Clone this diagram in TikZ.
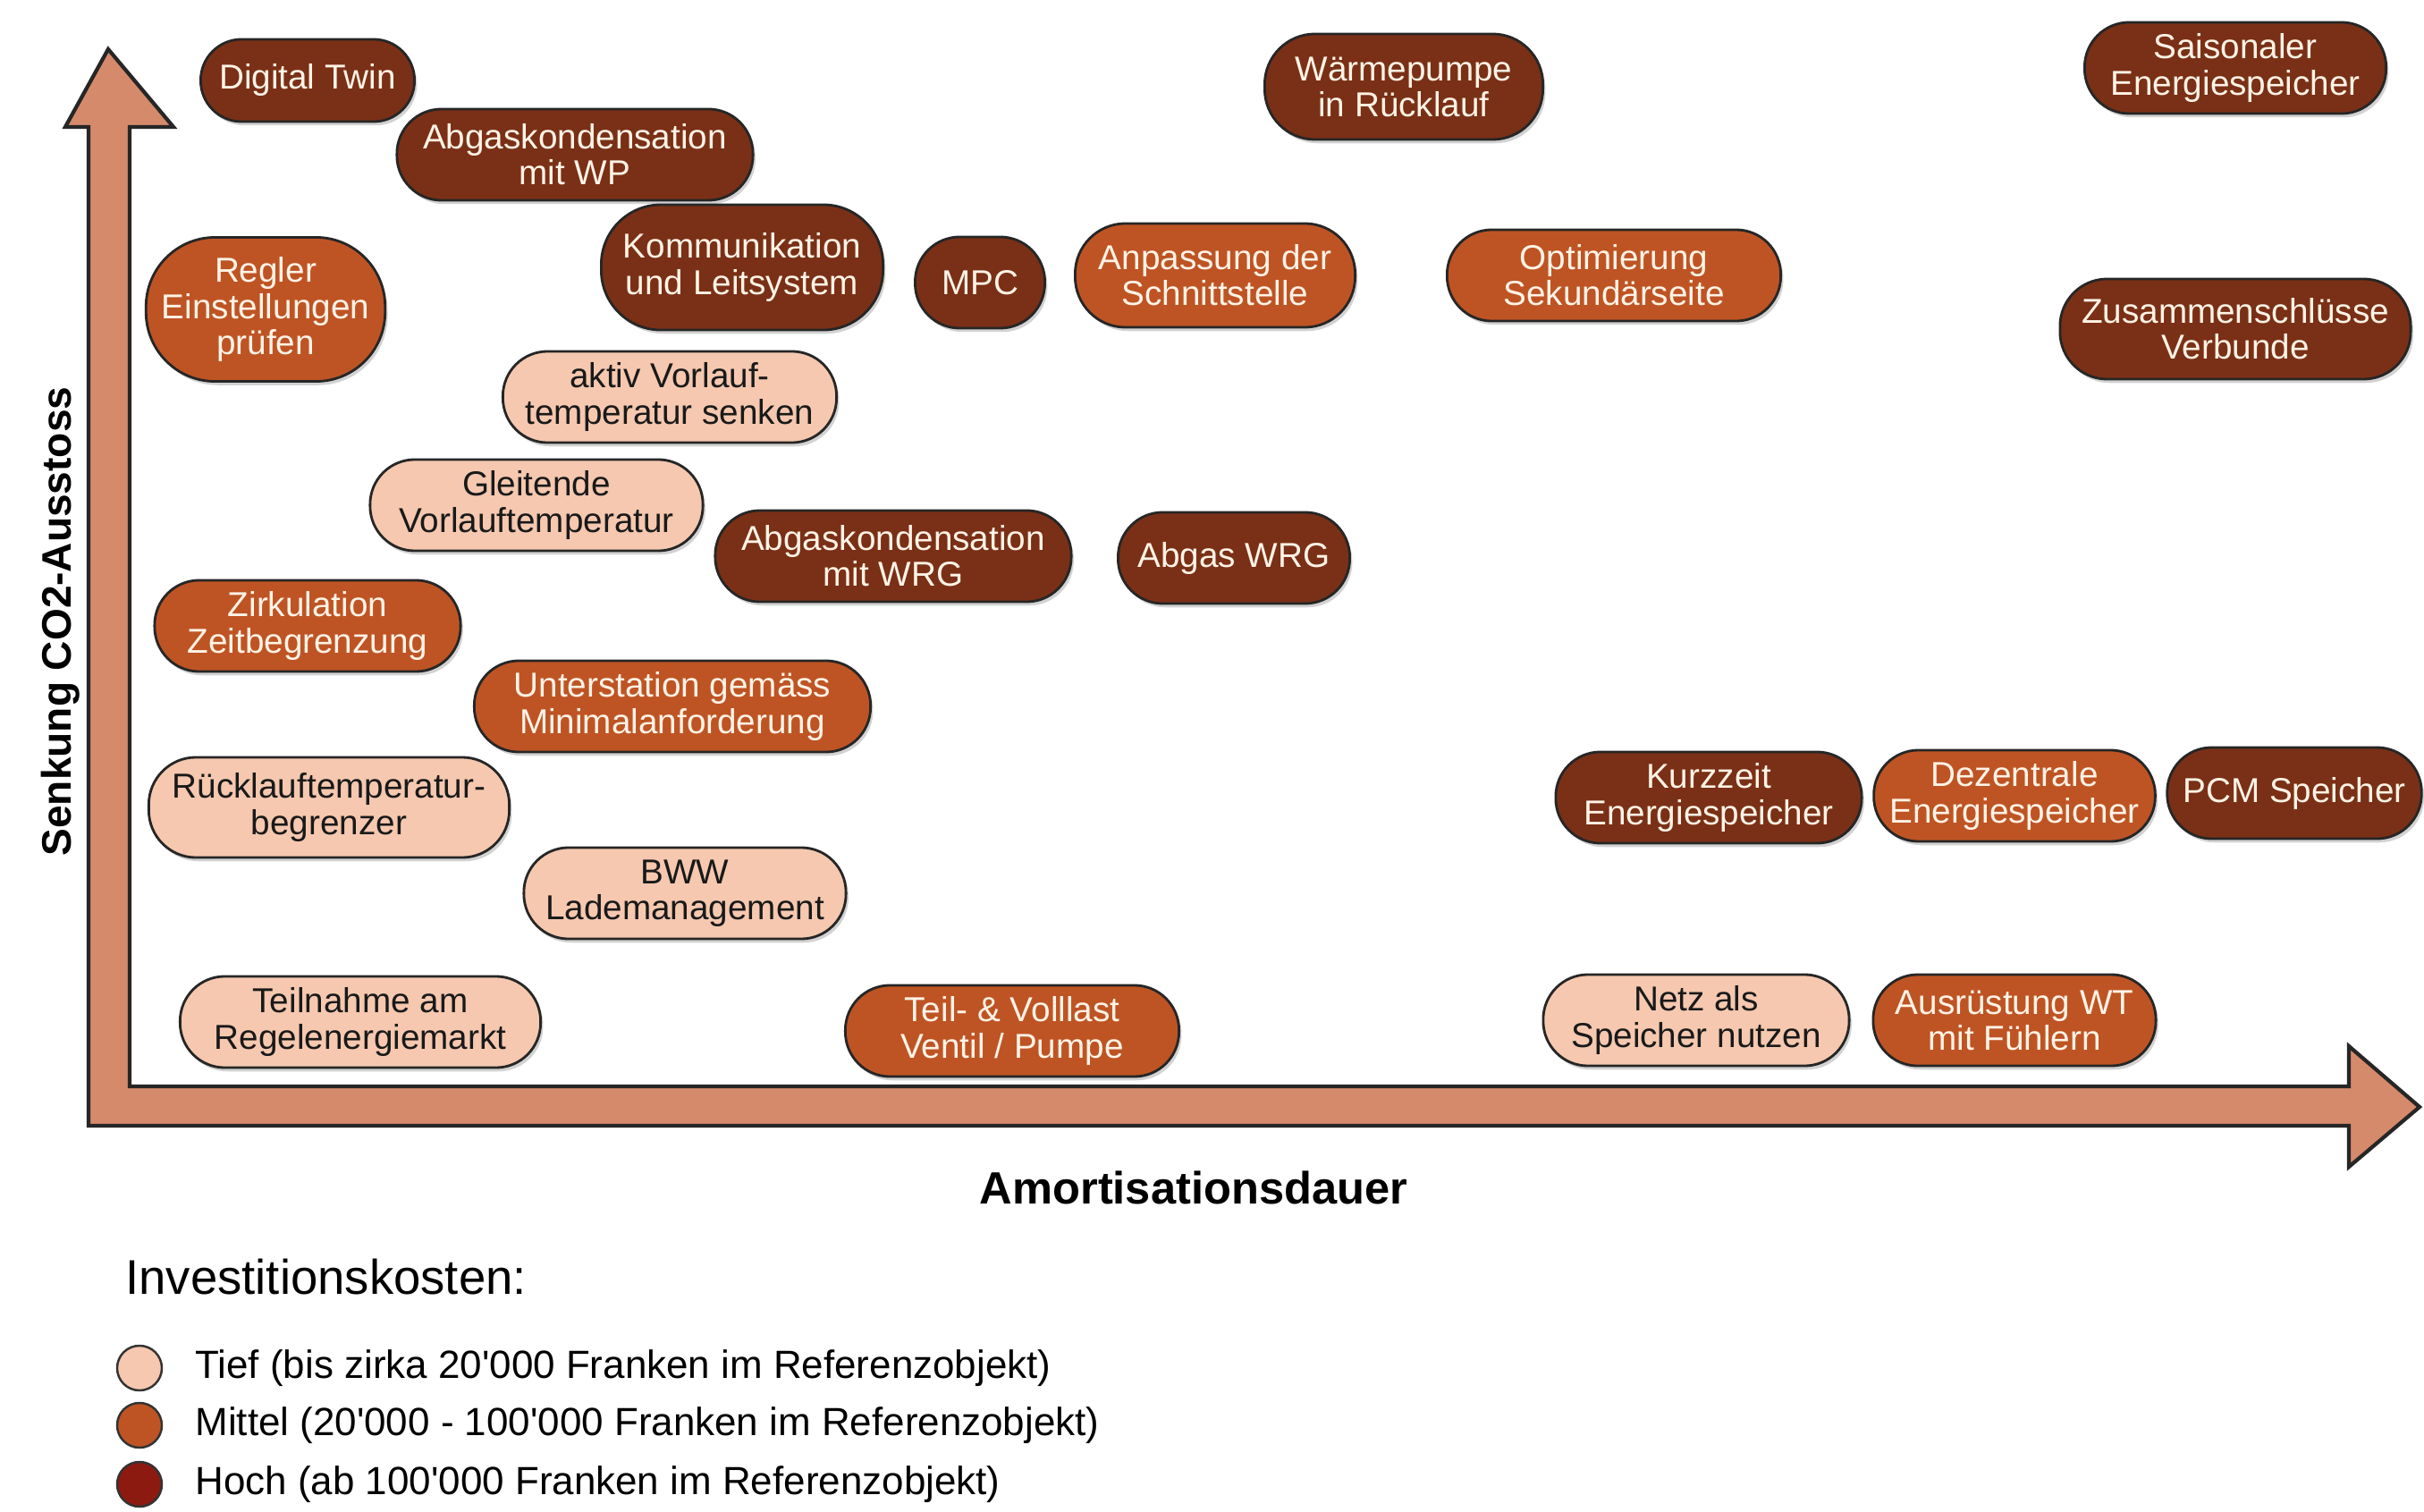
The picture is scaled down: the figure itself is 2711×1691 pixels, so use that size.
\documentclass[tikz,border=0pt]{standalone}
\usepackage{fontspec}
\setmainfont{Liberation Sans}
\usetikzlibrary{shadows}

\definecolor{ctief}{HTML}{F5C8AF}
\definecolor{cmittel}{HTML}{BE5424}
\definecolor{choch}{HTML}{7A3016}
\definecolor{chochdot}{HTML}{8C1A10}
\definecolor{cpfeil}{HTML}{D58A6B}
\definecolor{cschrift}{HTML}{FFF3E6}

\newcommand{\apos}{\textquotesingle}

\tikzset{
  massnahme/.style={draw=black!85, line width=0.8pt, rounded corners=14.2pt,
    align=center, minimum height=1.02cm, inner xsep=5pt,
    font=\fontsize{11}{11.4}\selectfont,
    drop shadow={opacity=0.35, shadow xshift=0.8pt, shadow yshift=-1.2pt}},
  tief/.style={massnahme, fill=ctief, text=black!90},
  mittel/.style={massnahme, fill=cmittel, text=cschrift},
  hoch/.style={massnahme, fill=choch, text=cschrift},
  legdot/.style={circle, draw=black!80, line width=0.7pt, minimum size=0.5cm, inner sep=0pt},
  legtext/.style={anchor=west, font=\fontsize{12.5}{14}\selectfont},
}

\begin{document}
\begin{tikzpicture}[x=0.01cm,y=-0.01cm]
	\useasboundingbox (0,0) rectangle (2711,1691);
	\fill[white] (0,0) rectangle (2711,1691);
	
	% Achsen
	\draw[fill=cpfeil, draw=black!85, line width=1.2pt, line join=miter]
	  (99,1259) -- (99,142) -- (73,142) -- (121,55) -- (194,142) -- (145,142)
	  -- (145,1215) -- (2627,1215) -- (2627,1170) -- (2706,1238) -- (2627,1305)
	  -- (2627,1259) -- cycle;
	\node[rotate=90, font=\bfseries\fontsize{13.1}{15}\selectfont] (ylabel) at (68,695) {Senkung CO2-Ausstoss};
	\node[font=\bfseries\fontsize{14.4}{16}\selectfont] (xlabel) at (1335,1328) {Amortisationsdauer};
	
	% Massnahmen
	\node[hoch, minimum width=2.39cm, minimum height=0.92cm, rounded corners=13pt] (dtwin) at (344,90) {Digital Twin};
	\node[hoch, minimum width=3.98cm] (abgwp) at (643,173) {Abgaskondensation\\mit WP};
	\node[hoch, minimum width=3.11cm, minimum height=1.18cm, rounded corners=16pt] (wpruck) at (1570,97) {Wärmepumpe\\in Rücklauf};
	\node[hoch, minimum width=3.37cm] (saison) at (2500,76) {Saisonaler\\Energiespeicher};
	\node[mittel, minimum width=2.56cm, minimum height=1.61cm, rounded corners=22pt] (regler) at (297,346) {Regler\\Einstellungen\\prüfen};
	\node[hoch, minimum width=3.15cm, minimum height=1.40cm, rounded corners=19pt] (komm) at (830,299) {Kommunikation\\und Leitsystem};
	\node[hoch, minimum width=1.45cm] (mpc) at (1096,316) {MPC};
	\node[mittel, minimum width=3.13cm, minimum height=1.16cm, rounded corners=16pt] (anpass) at (1359,308) {Anpassung der\\Schnittstelle};
	\node[mittel, minimum width=3.73cm] (optsek) at (1805,308) {Optimierung\\Sekundärseite};
	\node[hoch, minimum width=3.92cm, minimum height=1.12cm, rounded corners=15pt] (zusam) at (2500,368) {Zusammenschlüsse\\Verbunde};
	%
	\node[tief, minimum width=3.73cm] (aktivvl) at (749,444) {aktiv Vorlauf-\\temperatur senken};
	\node[tief, minimum width=3.72cm] (gleitvl) at (600,565) {Gleitende\\Vorlauftemperatur};
	\node[hoch, minimum width=3.98cm] (abgwrg) at (999,622) {Abgaskondensation\\mit WRG};
	\node[hoch, minimum width=2.59cm] (abgas) at (1380,624) {Abgas WRG};
	\node[mittel, minimum width=3.42cm] (zirk) at (344,700) {Zirkulation\\Zeitbegrenzung};
	\node[mittel, minimum width=4.43cm] (unterst) at (752,790) {Unterstation gemäss\\Minimalanforderung};
	\node[tief, minimum width=4.03cm, minimum height=1.12cm, rounded corners=15pt] (rltemp) at (368,903) {Rücklauftemperatur-\\begrenzer};
	\node[tief, minimum width=3.60cm] (bww) at (766,999) {BWW\\Lademanagement};
	\node[tief, minimum width=4.03cm] (teilnahme) at (403,1143) {Teilnahme am\\Regelenergiemarkt};
	\node[mittel, minimum width=3.73cm] (teilvoll) at (1132,1153) {Teil- \& Volllast\\Ventil / Pumpe};
	%
	\node[hoch, minimum width=3.42cm] (kurzzeit) at (1911,892) {Kurzzeit\\Energiespeicher};
	\node[mittel, minimum width=3.13cm] (dezentral) at (2253,890) {Dezentrale\\Energiespeicher};
	\node[hoch, minimum width=2.80cm] (pcm) at (2566,887) {PCM Speicher};
	\node[tief, minimum width=3.42cm] (netz) at (1897,1141) {Netz als\\Speicher nutzen};
	\node[mittel, minimum width=3.16cm] (ausruest) at (2253,1141) {Ausrüstung WT\\mit Fühlern};
	
	% Legende
	\node[anchor=west, font=\fontsize{15.5}{17}\selectfont] (legtitle) at (128,1428) {Investitionskosten:};
	\node[legdot, fill=ctief] (dtief) at (156,1530) {};
	\node[legdot, fill=cmittel] (dmittel) at (156,1594) {};
	\node[legdot, fill=chochdot] (dhoch) at (156,1660) {};
	\node[legtext] (ttief) at (206,1530) {Tief (bis zirka 20\apos000 Franken im Referenzobjekt)};
	\node[legtext] (tmittel) at (206,1594) {Mittel (20\apos000 - 100\apos000 Franken im Referenzobjekt)};
	\node[legtext] (thoch) at (206,1660) {Hoch (ab 100\apos000 Franken im Referenzobjekt)};
	
\end{tikzpicture}
\end{document}
